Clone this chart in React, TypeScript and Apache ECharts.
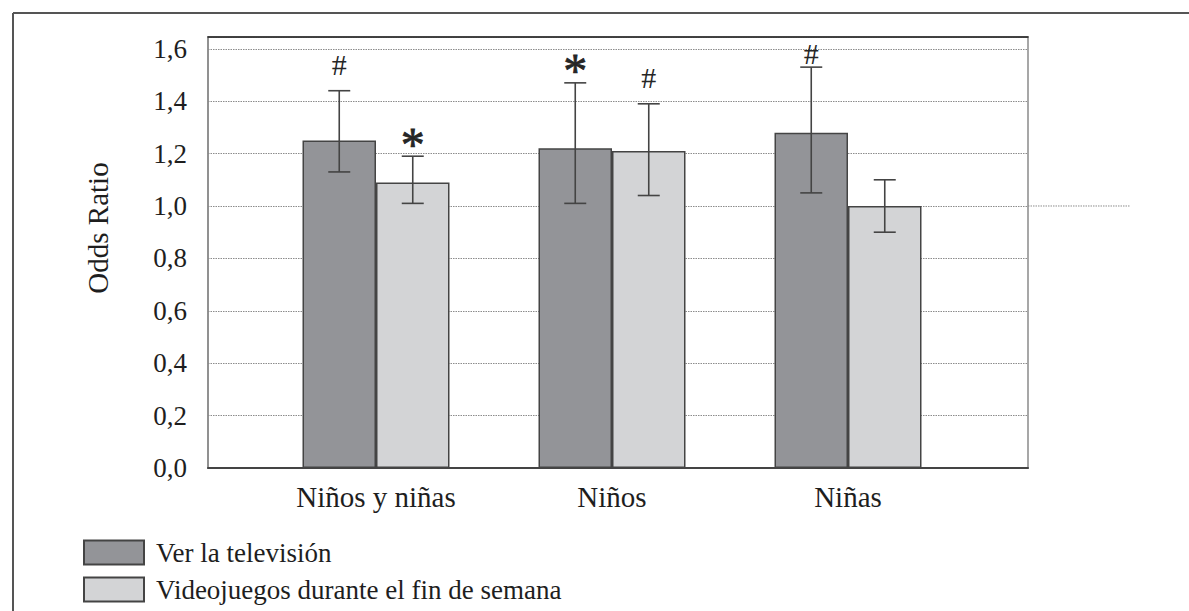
import React, { useEffect, useRef } from "react";
import * as echarts from "echarts";

const categories = ["Niños y niñas", "Niños", "Niñas"];
const seriesNames = ["Ver la televisión", "Videojuegos durante el fin de semana"];
const tvValues = [1.25, 1.22, 1.28];
const tvLow = [1.13, 1.01, 1.05];
const tvHigh = [1.44, 1.47, 1.53];
const vgValues = [1.09, 1.21, 1.0];
const vgLow = [1.01, 1.04, 0.9];
const vgHigh = [1.19, 1.39, 1.1];
const tvMarks = ["#", "*", "#"];
const vgMarks = ["*", "#", ""];
const yTicks = [0, 0.2, 0.4, 0.6, 0.8, 1.0, 1.2, 1.4, 1.6];

const FONT = "Liberation Serif, DejaVu Serif, serif";
const Y_MAX = 1.645;
const BAR_W = 73.5;
const TEXT = "#1e1e1e";

function errorSeries(low: number[], high: number[], marks: string[], side: number) {
  return {
    type: "custom",
    xAxisIndex: 1,
    yAxisIndex: 1,
    clip: false,
    z: 5,
    data: low.map((l, i) => [i, l, high[i]]),
    renderItem: (params: any, api: any) => {
      const i = api.value(0);
      const cx = api.coord([i, 0])[0] + side * BAR_W / 2;
      const yLo = api.coord([i, api.value(1)])[1];
      const yHi = api.coord([i, api.value(2)])[1];
      const plotTop = api.coord([i, Y_MAX])[1];
      const cap = 11;
      const ls = { stroke: "#444", lineWidth: 1.6 };
      const m = marks[i];
      const children: any[] = [
        { type: "line", shape: { x1: cx, y1: yLo, x2: cx, y2: yHi }, style: ls },
        { type: "line", shape: { x1: cx - cap, y1: yLo, x2: cx + cap, y2: yLo }, style: ls },
        { type: "line", shape: { x1: cx - cap, y1: yHi, x2: cx + cap, y2: yHi }, style: ls },
      ];
      if (m) {
        const isStar = m === "*";
        let y = yHi - (isStar ? 19 : 26);
        y = Math.max(y, plotTop + 16);
        children.push({
          type: "text",
          x: cx,
          y: isStar ? y + 7 : y,
          style: {
            text: m,
            font: isStar ? `48px ${FONT}` : `30px ${FONT}`,
            fill: "#262626",
            stroke: isStar ? "#262626" : undefined,
            lineWidth: isStar ? 0.8 : 0,
            align: "center",
            verticalAlign: "middle",
          },
        });
      }
      return { type: "group", children };
    },
  };
}

export default function App() {
  const ref = useRef<HTMLDivElement>(null);
  useEffect(() => {
    document.body.style.margin = "0";
    const chart = echarts.init(ref.current!, null, { renderer: "svg" });
    const frame = [
      { id: "fl", type: "line", shape: { x1: 13, y1: 13, x2: 13, y2: 611 }, style: { stroke: "#555", lineWidth: 2 } },
      { id: "ft", type: "line", shape: { x1: 13, y1: 13, x2: 1189, y2: 13 }, style: { stroke: "#555", lineWidth: 2 } },
      {
        id: "yname",
        type: "text",
        x: 98,
        y: 228,
        rotation: Math.PI / 2,
        style: { text: "Odds Ratio", font: `29px ${FONT}`, fill: TEXT, align: "center", verticalAlign: "middle" },
      },
    ];
    const legendBase = {
      orient: "vertical",
      left: 83,
      padding: 0,
      itemWidth: 60,
      itemHeight: 24,
      icon: "rect",
      textStyle: { color: TEXT, fontSize: 27, fontFamily: FONT, padding: [0, 0, 0, 7] },
    };
    const option: any = {
      animation: false,
      backgroundColor: "#ffffff",
      textStyle: { fontFamily: FONT },
      grid: [
        { left: 208, top: 37, width: 820, height: 431, show: true, borderColor: "#8a8a8a", borderWidth: 1.5 },
        { left: 258, top: 37, width: 708, height: 431 },
      ],
      xAxis: [
        {
          type: "value", gridIndex: 0, min: 0, max: 1, position: "bottom",
          axisLine: { show: true, lineStyle: { color: "#444", width: 2 } },
          axisTick: { show: false }, axisLabel: { show: false }, splitLine: { show: false },
        },
        {
          type: "category", gridIndex: 1, data: categories,
          axisLine: { show: false }, axisTick: { show: false },
          axisLabel: { color: TEXT, fontSize: 29, fontFamily: FONT, margin: 14 },
        },
        {
          type: "value", gridIndex: 0, min: 0, max: 1, position: "top",
          axisLine: { show: true, lineStyle: { color: "#222", width: 1.5 } },
          axisTick: { show: false }, axisLabel: { show: false }, splitLine: { show: false },
        },
      ],
      yAxis: [
        {
          type: "value", gridIndex: 0, min: 0, max: Y_MAX, interval: 0.2,
          axisLine: { show: true, lineStyle: { color: "#8a8a8a", width: 1.5 } },
          axisTick: { show: false },
          axisLabel: {
            color: TEXT, fontSize: 27, fontFamily: FONT, margin: 21, showMaxLabel: false,
            formatter: (v: number) => {
              const t = yTicks.find((k) => Math.abs(k - v) < 1e-6);
              return t === undefined ? "" : t.toFixed(1).replace(".", ",");
            },
          },
          splitLine: { show: true, lineStyle: { color: "#8c8c8c", width: 1, type: [1.5, 1] } },
        },
        { type: "value", gridIndex: 1, min: 0, max: Y_MAX, show: false, splitLine: { show: false } },
      ],
      legend: [
        { ...legendBase, top: 539, data: [seriesNames[0]] },
        { ...legendBase, top: 576, data: [seriesNames[1]] },
      ],
      series: [
        {
          name: seriesNames[0], type: "bar", xAxisIndex: 1, yAxisIndex: 1,
          data: tvValues, barWidth: BAR_W, barGap: "0%",
          itemStyle: { color: "#939498", borderColor: "#444", borderWidth: 1.5 },
        },
        {
          name: seriesNames[1], type: "bar", xAxisIndex: 1, yAxisIndex: 1,
          data: vgValues, barWidth: BAR_W, barGap: "0%",
          itemStyle: { color: "#d3d4d6", borderColor: "#444", borderWidth: 1.5 },
        },
        errorSeries(tvLow, tvHigh, tvMarks, -1),
        errorSeries(vgLow, vgHigh, vgMarks, 1),
      ],
      graphic: frame,
    };
    chart.setOption(option);
    const y1 = chart.convertToPixel({ yAxisIndex: 0 }, 1.0) as number;
    const xr = chart.convertToPixel({ xAxisIndex: 0 }, 1) as number;
    chart.setOption({
      graphic: [
        ...frame,
        {
          id: "ext",
          type: "line",
          shape: { x1: xr, y1: y1, x2: xr + 102, y2: y1 },
          style: { stroke: "#8c8c8c", lineWidth: 1, lineDash: [1.5, 1] },
        },
      ],
    });
    return () => chart.dispose();
  }, []);
  return <div ref={ref} style={{ width: 1189, height: 611 }} />;
}
